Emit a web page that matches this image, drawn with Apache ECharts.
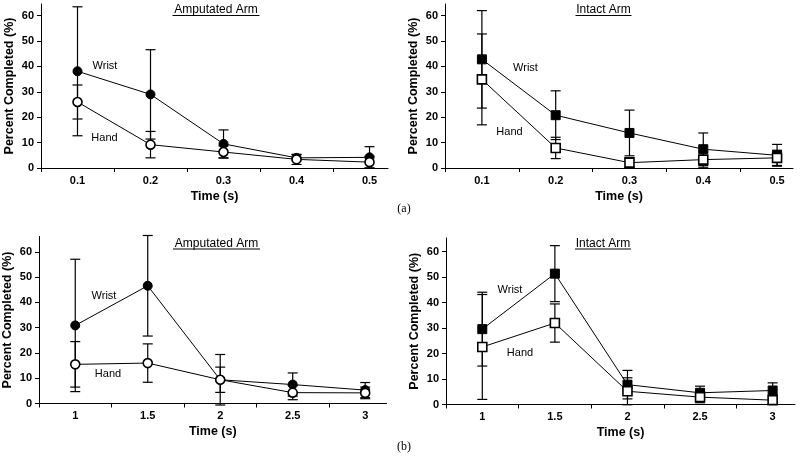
<!DOCTYPE html>
<html>
<head>
<meta charset="utf-8">
<script src="https://cdn.jsdelivr.net/npm/echarts@6/dist/echarts.min.js"></script>
<style>
html,body{margin:0;padding:0;background:#fff;}
#chart{width:800px;height:459px;}
</style>
</head>
<body>
<div id="chart"></div>
<script>
// ---- Data ----
const timesA = [0.1, 0.2, 0.3, 0.4, 0.5];
const timesB = [1, 1.5, 2, 2.5, 3];
const tickLabelsA = ['0.1', '0.2', '0.3', '0.4', '0.5'];
const tickLabelsB = ['1', '1.5', '2', '2.5', '3'];
const yTickValues = [0, 10, 20, 30, 40, 50, 60];

// (a) Amputated Arm
const ampA_wrist    = [38.1, 29.0, 9.5, 4.0, 4.2];
const ampA_wristErr = [25.4, 17.6, 5.5, 1.2, 4.2];
const ampA_hand     = [26.0, 9.2, 6.3, 3.4, 2.3];
const ampA_handErr  = [6.7, 5.2, 2.4, 2.0, 2.3];
// (a) Intact Arm
const intA_wrist    = [42.8, 20.8, 13.8, 7.4, 5.0];
const intA_wristErr = [19.2, 9.6, 9.0, 6.4, 4.3];
const intA_hand     = [34.9, 7.9, 2.1, 3.3, 4.0];
const intA_handErr  = [17.9, 4.2, 2.0, 3.0, 3.0];
// (b) Amputated Arm
const ampB_wrist    = [30.9, 46.6, 9.4, 7.5, 5.3];
const ampB_wristErr = [26.2, 19.9, 10.0, 4.6, 3.0];
const ampB_hand     = [15.5, 16.0, 9.4, 4.3, 4.2];
const ampB_handErr  = [9.0, 7.6, 5.0, 2.8, 2.3];
// (b) Intact Arm
const intB_wrist    = [29.6, 51.4, 7.8, 4.6, 5.5];
const intB_wristErr = [14.5, 11.0, 5.6, 2.6, 3.0];
const intB_hand     = [22.6, 32.0, 5.2, 2.9, 1.7];
const intB_handErr  = [20.6, 7.5, 5.3, 2.2, 1.5];

// ---- Chart ----
const FONT = "'Liberation Sans', Arial, sans-serif";
const chart = echarts.init(document.getElementById('chart'), null, {renderer: 'canvas'});

const panels = [
  {grid: {left: 41, top: 4, width: 347, height: 164}, xMin: 0.05, xMax: 0.5253, yMax: 64.6,
   times: timesA, labels: tickLabelsA, tickVals: [0.05, 0.15, 0.25, 0.35, 0.45],
   wrist: ampA_wrist, wristErr: ampA_wristErr, hand: ampA_hand, handErr: ampA_handErr, sym: 'circle'},
  {grid: {left: 445, top: 4, width: 348, height: 164}, xMin: 0.05, xMax: 0.5216, yMax: 64.6,
   times: timesA, labels: tickLabelsA, tickVals: [0.05, 0.15, 0.25, 0.35, 0.45],
   wrist: intA_wrist, wristErr: intA_wristErr, hand: intA_hand, handErr: intA_handErr, sym: 'rect'},
  {grid: {left: 38.5, top: 236.5, width: 348, height: 167}, xMin: 0.75, xMax: 3.147, yMax: 66.1,
   times: timesB, labels: tickLabelsB, tickVals: [0.75, 1.25, 1.75, 2.25, 2.75],
   wrist: ampB_wrist, wristErr: ampB_wristErr, hand: ampB_hand, handErr: ampB_handErr, sym: 'circle'},
  {grid: {left: 446, top: 238, width: 349, height: 166.5}, xMin: 0.75, xMax: 3.154, yMax: 65.4,
   times: timesB, labels: tickLabelsB, tickVals: [0.75, 1.25, 1.75, 2.25, 2.75],
   wrist: intB_wrist, wristErr: intB_wristErr, hand: intB_hand, handErr: intB_handErr, sym: 'rect'}
];

const grids = [], xAxes = [], yAxes = [], series = [];

function errorBarSeries(idx, xs, means, errs) {
  return {
    type: 'custom', xAxisIndex: idx, yAxisIndex: idx, z: 2, silent: true,
    data: xs.map((x, i) => [x, means[i], errs[i]]),
    renderItem: function (params, api) {
      const x = api.value(0), m = api.value(1), e = api.value(2);
      const top = api.coord([x, m + e]);
      const bot = api.coord([x, m - e]);
      const hw = 5;
      const style = {stroke: '#000', lineWidth: 1.2};
      return {
        type: 'group',
        children: [
          {type: 'line', shape: {x1: top[0], y1: top[1], x2: bot[0], y2: bot[1]}, style: style},
          {type: 'line', shape: {x1: top[0] - hw, y1: top[1], x2: top[0] + hw, y2: top[1]}, style: style},
          {type: 'line', shape: {x1: bot[0] - hw, y1: bot[1], x2: bot[0] + hw, y2: bot[1]}, style: style}
        ]
      };
    }
  };
}

panels.forEach((p, i) => {
  grids.push(Object.assign({containLabel: false}, p.grid));
  const labelMap = {};
  p.times.forEach((t, k) => { labelMap[t.toFixed(2)] = p.labels[k]; });
  xAxes.push({
    type: 'value', gridIndex: i, min: p.xMin, max: p.xMax,
    name: 'Time (s)', nameLocation: 'middle', nameGap: 22,
    nameTextStyle: {fontFamily: FONT, fontWeight: 'bold', fontSize: 12.5, color: '#000'},
    axisLine: {show: true, onZero: false, lineStyle: {color: '#000', width: 1}},
    axisTick: {show: true, length: 4, lineStyle: {color: '#000', width: 1}, customValues: p.tickVals},
    axisLabel: {show: true, customValues: p.times, margin: 7, fontFamily: FONT, fontWeight: 'bold', fontSize: 11, color: '#000',
      formatter: v => labelMap[Number(v).toFixed(2)] || ''},
    splitLine: {show: false}
  });
  yAxes.push({
    type: 'value', gridIndex: i, min: 0, max: p.yMax,
    name: 'Percent Completed (%)', nameLocation: 'middle', nameGap: 25,
    nameTextStyle: {fontFamily: FONT, fontWeight: 'bold', fontSize: 12.5, color: '#000'},
    axisLine: {show: true, lineStyle: {color: '#000', width: 1}},
    axisTick: {show: true, length: 4, lineStyle: {color: '#000', width: 1}, customValues: yTickValues},
    axisLabel: {show: true, customValues: yTickValues, margin: 7, fontFamily: FONT, fontWeight: 'bold', fontSize: 11, color: '#000'},
    splitLine: {show: false}
  });
  series.push(errorBarSeries(i, p.times, p.wrist, p.wristErr));
  series.push(errorBarSeries(i, p.times, p.hand, p.handErr));
  series.push({
    type: 'line', name: 'Wrist', xAxisIndex: i, yAxisIndex: i, z: 3,
    data: p.times.map((t, k) => [t, p.wrist[k]]),
    symbol: p.sym, symbolSize: 9, showAllSymbol: true,
    lineStyle: {color: '#000', width: 1},
    itemStyle: {color: '#000', borderColor: '#000', borderWidth: 1},
    emphasis: {disabled: true}, animation: false
  });
  series.push({
    type: 'line', name: 'Hand', xAxisIndex: i, yAxisIndex: i, z: 4,
    data: p.times.map((t, k) => [t, p.hand[k]]),
    symbol: p.sym, symbolSize: 9, showAllSymbol: true,
    lineStyle: {color: '#000', width: 1},
    itemStyle: {color: '#fff', borderColor: '#000', borderWidth: 1.6},
    emphasis: {disabled: true}, animation: false
  });
});

function txt(x, y, s, opts) {
  return Object.assign({
    type: 'text', x: x, y: y, silent: true,
    style: {text: s, fill: '#000', font: '11px ' + FONT, textAlign: 'center', textVerticalAlign: 'middle', align: 'center', verticalAlign: 'middle'}
  }, opts || {});
}
function title(cx, cy, s, w) {
  return [
    {type: 'text', x: cx, y: cy, silent: true,
     style: {text: s, fill: '#000', font: '12px ' + FONT, align: 'center', verticalAlign: 'middle'}},
    {type: 'line', silent: true, shape: {x1: cx - w / 2, y1: cy + 5.5, x2: cx + w / 2, y2: cy + 5.5},
     style: {stroke: '#000', lineWidth: 1}}
  ];
}

const graphics = [].concat(
  title(216, 10, 'Amputated Arm', 87),
  title(603.5, 10, 'Intact Arm', 56),
  title(216.5, 243.5, 'Amputated Arm', 87),
  title(603, 243.5, 'Intact Arm', 56),
  [
    txt(105, 66, 'Wrist'), txt(104.5, 138, 'Hand'),
    txt(525.5, 68, 'Wrist'), txt(509.5, 131.5, 'Hand'),
    txt(104, 296, 'Wrist'), txt(108, 374, 'Hand'),
    txt(510, 290, 'Wrist'), txt(520, 353, 'Hand'),
    {type: 'text', x: 404, y: 209, silent: true,
     style: {text: '(a)', fill: '#000', font: '12px "Liberation Serif", "Times New Roman", serif', align: 'center', verticalAlign: 'middle'}},
    {type: 'text', x: 404, y: 447, silent: true,
     style: {text: '(b)', fill: '#000', font: '12px "Liberation Serif", "Times New Roman", serif', align: 'center', verticalAlign: 'middle'}}
  ]
);

chart.setOption({
  animation: false,
  backgroundColor: '#fff',
  grid: grids,
  xAxis: xAxes,
  yAxis: yAxes,
  series: series,
  graphic: graphics
});
</script>
</body>
</html>
